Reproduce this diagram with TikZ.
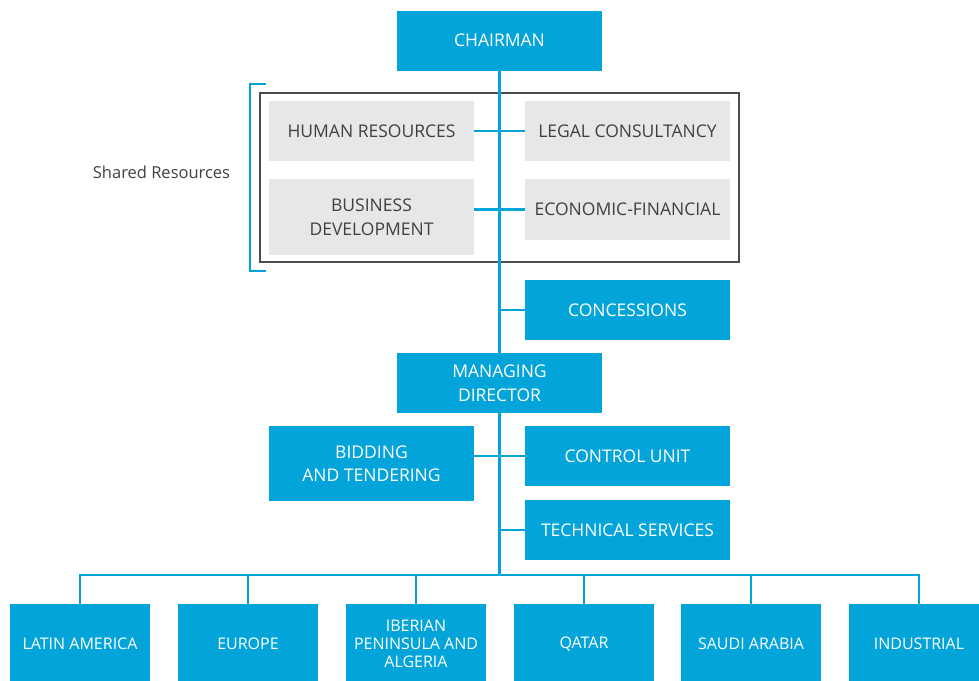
\documentclass[tikz,border=0pt]{standalone}
\usepackage{fontspec}
\setmainfont{Open Sans}
\usetikzlibrary{positioning, calc}
\definecolor{orgblue}{RGB}{3,164,217}
\definecolor{sharedgray}{RGB}{230,231,232}
\definecolor{textgray}{RGB}{64,64,65}
\tikzset{
  unit/.style={fill=orgblue, text=white, minimum width=205pt, minimum height=60pt,
    inner sep=0pt, align=center, font=\fontsize{17.5}{23.5}\selectfont},
  shared/.style={unit, fill=sharedgray, text=textgray},
  region/.style={unit, minimum width=140pt, minimum height=80pt,
    font=\fontsize{16}{18}\selectfont},
  link/.style={draw=orgblue, line width=2.6pt}
}
\begin{document}
\begin{tikzpicture}[x=1pt, y=-1pt]
            \useasboundingbox (0,0) rectangle (979,680);
            % top of the chart
            \draw (499.5,40.5) node[unit] (chair) {CHAIRMAN};
            \draw[draw=black!70, line width=1.4pt] (260,93) rectangle (739,262);
            \draw (371.5,131) node[shared] (hr) {HUMAN RESOURCES};
            \draw (627.5,131) node[shared] (legal) {LEGAL CONSULTANCY};
            \draw (371.5,217) node[shared, minimum height=76pt] (bd) {BUSINESS\\DEVELOPMENT};
            \draw (627.5,209.5) node[shared, minimum height=61pt] (econ) {ECONOMIC-FINANCIAL};
            \draw (627.5,310) node[unit] (conc) {CONCESSIONS};
            \draw (499.5,383) node[unit] (md) {MANAGING\\DIRECTOR};
            \draw (371.5,463.5) node[unit, minimum height=75pt] (bid) {BIDDING\\AND TENDERING};
            \draw (627.5,456) node[unit] (ctrl) {CONTROL UNIT};
            \draw (627.5,530) node[unit] (tech) {TECHNICAL SERVICES};
            \draw (161.5,172) node[text=textgray, font=\fontsize{16.5}{18}\selectfont] (sharedlbl) {Shared Resources};
            % regions
            \draw (80,644) node[region] (latam) {LATIN AMERICA};
            \draw (248,644) node[region] (europe) {EUROPE};
            \draw (416,644) node[region] (iberia) {IBERIAN\\PENINSULA AND\\ALGERIA};
            \draw (584,644) node[region] (qatar) {QATAR};
            \draw (751,644) node[region] (saudi) {SAUDI ARABIA};
            \draw (919,644) node[region] (indust) {INDUSTRIAL};
            \coordinate (bus) at (499.5,575);
            % connectors
            \draw[link] (chair.south) -- (md.north);
            \draw[link] (md.south) -- (bus);
            \draw[link] (hr.east) -- (legal.west);
            \draw[link] (bd.east |- econ.west) -- (econ.west);
            \draw[link] (chair.south |- conc.west) -- (conc.west);
            \draw[link] (bid.east |- ctrl.west) -- (ctrl.west);
            \draw[link] (md.south |- tech.west) -- (tech.west);
            \draw[link] (latam.north) -- (latam.north |- bus) -- (indust.north |- bus) -- (indust.north);
            \foreach \r in {europe, iberia, qatar, saudi}
              \draw[link] (\r.north) -- (\r.north |- bus);
            % bracket round the shared block
            \draw[orgblue, line width=2.6pt] (266,84) -- (250,84) -- (250,271) -- (266,271);
        \end{tikzpicture}
\end{document}
